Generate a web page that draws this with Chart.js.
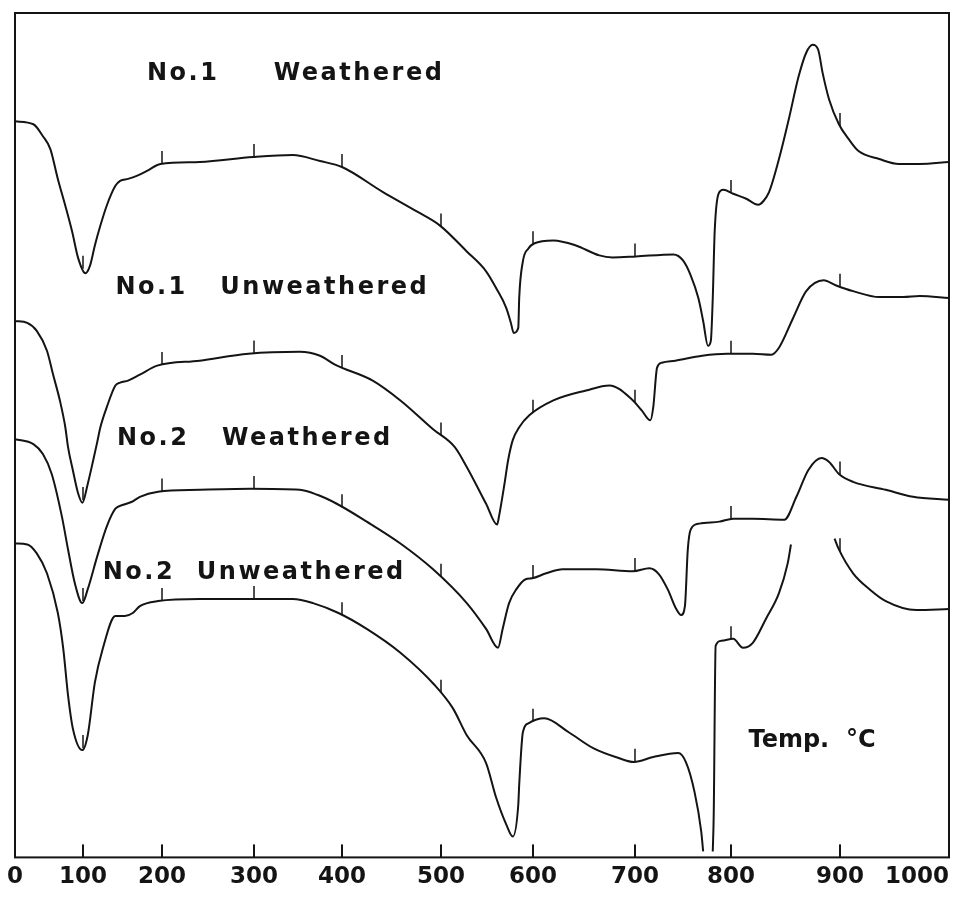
<!DOCTYPE html>
<html>
<head>
<meta charset="utf-8">
<script src="https://cdn.jsdelivr.net/npm/chart.js@4/dist/chart.umd.min.js"></script>
<style>html,body{margin:0;padding:0;background:#fff}canvas{display:block}</style>
</head>
<body>
<canvas id="c" width="972" height="900"></canvas>
<script>
// ---- DATA (x: temperature in °C, y: differential signal, arbitrary units) ----
const tempTickValues = [0, 100, 200, 300, 400, 500, 600, 700, 800, 900, 1000];
const tempTickLabels = ['0', '100', '200', '300', '400', '500', '600', '700', '800', '900', '1000'];
const seriesNames = ['No.1 Weathered', 'No.1 Unweathered', 'No.2 Weathered', 'No.2 Unweathered'];
const markTemps = [100, 200, 300, 400, 500, 600, 700, 800, 900];

const no1WeatheredTemp = [0,27,41,52,63,74,84,93,103,109,115,122,130,141,147,157,168,181,198,241,299,344,375,400,441,476,499,528,549,560,571,576,579,584,585,589,595,601,620,642,665,678,701,740,750,758,766,771,776,779,781,783,787,792,802,814,825,830,835,844,853,862,869,875,880,884,890,899,908,917,936,954,973,1000];
const no1WeatheredSignal = [148.2,147.6,145.2,142.6,136.6,131.2,126,120.6,117.6,119.2,123.2,127.2,131.2,135.2,136.2,136.6,137.2,138.2,139.6,140,141,141.4,140.2,139,134,130,127.2,122,118,114.6,110.6,107.6,105.6,106.6,112.6,120,122.6,123.6,124.2,123.2,121.2,120.8,121,121.4,120.2,117.2,112.6,108,103,104,112.6,126,133.6,134.4,133.6,132.6,131.4,132.2,134,140.6,148.6,157.2,162,163.6,162.6,158,152.6,147.6,144.6,142.2,140.6,139.6,139.6,140];

const no1UnweatheredTemp = [0,18,32,47,56,66,74,78,85,93,99,106,113,118,122,130,141,147,157,172,194,241,294,352,375,392,431,459,492,515,528,549,561,563,569,573,578,585,596,620,652,675,697,707,716,719,723,728,742,770,796,820,837,844,857,869,885,896,912,936,958,973,1000];
const no1UnweatheredSignal = [108,107.6,106,102,97.2,92,86.6,82.6,78,73.2,71.4,75.2,80,83.6,86.6,90.6,95,95.6,96,97.2,99,100,101.4,101.8,101,99.2,96,92,86.2,82.6,78.6,71.2,67,68.6,75.2,80,84,86.6,89,92,94,95,92.2,90,88,90.6,98.6,99.6,100,101,101.4,101.4,101.2,102.6,108.6,114,116.2,115.2,114,112.8,112.8,113,112.6];

const no2WeatheredTemp = [0,27,41,54,69,78,88,99,106,118,130,141,151,162,172,195,241,296,352,372,394,425,459,492,528,549,562,567,574,582,592,599,613,629,662,698,715,725,734,743,748,752,755,758,767,788,802,820,849,860,871,883,890,899,912,942,967,1000];
const no2WeatheredSignal = [84.2,83.2,81.2,77.2,68.6,62,55.2,51.2,54,60.6,66.6,70.2,71,71.6,72.6,73.6,74,74.2,74,73,71.2,67.6,63.2,58,51.2,46,42.2,46,51.2,54,56,56.2,57.2,58,58,57.6,58.2,57,54,50,48.8,50.6,62,66,67.2,67.6,68.2,68.2,68,72.6,78,80.4,79.6,77.2,75.6,74,72.6,72];

// null = pen off scale (trace interrupted)
const no2UnweatheredTemp = [0,18,32,47,63,71,78,85,99,106,115,125,141,153,163,172,195,241,296,344,367,396,425,459,494,513,528,549,560,571,578,584,585,589,595,611,635,659,684,699,719,745,753,762,769,771,null,781,782,784,790,802,811,820,832,844,852,855,null,895,899,912,927,942,970,1000];
const no2UnweatheredSignal = [63.2,63,61.2,57.2,49.2,42,32.6,26,21.6,24.6,35.2,42,48.6,48.6,49.2,50.6,51.6,52,52,52,51.2,49.2,46,41.2,34.6,30,24.6,19,12,6.6,4.2,10.6,14.6,25.2,27,28,25.2,22,20,19.2,20.2,21,19.2,13.2,5.2,1.2,null,1.2,8.6,42.6,43.6,44,42.2,43.2,48,53.2,59.2,63,null,64.2,62,57.2,54,51.6,49.8,50];

const seriesTemps = [no1WeatheredTemp, no1UnweatheredTemp, no2WeatheredTemp, no2UnweatheredTemp];
const seriesSignals = [no1WeatheredSignal, no1UnweatheredSignal, no2WeatheredSignal, no2UnweatheredSignal];

// ---- Non-linear temperature axis (recorder calibration: fraction of axis length at each tick value) ----
const tempAxisFractions = [0, 0.0728, 0.1574, 0.2559, 0.3501, 0.4561, 0.5546, 0.6638, 0.7666, 0.8833, 1];
function tempToFraction(t) {
  const v = tempTickValues, f = tempAxisFractions;
  let i = 0;
  while (i < v.length - 2 && t > v[i + 1]) i++;
  return f[i] + (t - v[i]) / (v[i + 1] - v[i]) * (f[i + 1] - f[i]);
}
function fractionToTemp(d) {
  const v = tempTickValues, f = tempAxisFractions;
  let i = 0;
  while (i < f.length - 2 && d > f[i + 1]) i++;
  return v[i] + (d - f[i]) / (f[i + 1] - f[i]) * (v[i + 1] - v[i]);
}
class CalibratedTempScale extends Chart.LinearScale {
  getPixelForValue(value) {
    if (value === null || value === undefined || isNaN(value)) return NaN;
    return this.getPixelForDecimal(tempToFraction(value));
  }
  getValueForPixel(pixel) {
    return fractionToTemp(this.getDecimalForPixel(pixel));
  }
  _computeLabelItems(chartArea) {
    const items = super._computeLabelItems(chartArea);
    if (items && items[0] && items[0].options) items[0].options.textAlign = 'center';
    return items;
  }
}
CalibratedTempScale.id = 'calibratedTemp';
CalibratedTempScale.defaults = Chart.LinearScale.defaults;
Chart.register(CalibratedTempScale);

function signalAt(points, t) {
  for (let i = 0; i < points.length - 1; i++) {
    const a = points[i], b = points[i + 1];
    if (a.x === null || b.x === null || a.y === null || b.y === null) continue;
    if (t >= a.x && t <= b.x) {
      return b.x === a.x ? a.y : a.y + (t - a.x) / (b.x - a.x) * (b.y - a.y);
    }
  }
  return null;
}

const INK = '#141414';

const dtaDecor = {
  id: 'dtaDecor',
  afterDatasetsDraw(chart, args, opts) {
    const { ctx, chartArea: a } = chart;
    const x = chart.scales.x, y = chart.scales.y;
    ctx.save();
    ctx.strokeStyle = opts.color;
    ctx.lineCap = 'butt';
    // frame
    ctx.lineWidth = opts.frameWidth;
    ctx.strokeRect(a.left, a.top, a.right - a.left, a.bottom - a.top);
    // inward ticks on the temperature axis
    ctx.lineWidth = opts.tickWidth;
    x.ticks.forEach(t => {
      const px = x.getPixelForValue(t.value);
      ctx.beginPath(); ctx.moveTo(px, a.bottom); ctx.lineTo(px, a.bottom - opts.axisTickLength); ctx.stroke();
    });
    // temperature marks on each trace
    ctx.lineWidth = opts.markWidth;
    chart.data.datasets.forEach(ds => {
      markTemps.forEach(t => {
        const v = signalAt(ds.data, t);
        if (v === null) return;
        const px = x.getPixelForValue(t), py = y.getPixelForValue(v);
        ctx.beginPath(); ctx.moveTo(px, py); ctx.lineTo(px, py - opts.markLength); ctx.stroke();
      });
    });
    // trace labels
    ctx.fillStyle = opts.color;
    ctx.textAlign = 'left';
    ctx.textBaseline = 'alphabetic';
    opts.labels.forEach(l => {
      ctx.font = 'bold ' + l.size + 'px "DejaVu Sans"';
      ctx.letterSpacing = l.spacing + 'px';
      ctx.fillText(l.text, x.getPixelForValue(l.temp), y.getPixelForValue(l.signal));
    });
    ctx.letterSpacing = '0px';
    ctx.restore();
  }
};

const datasets = seriesNames.map((name, k) => ({
  label: name,
  data: seriesTemps[k].map((t, i) => ({ x: t, y: seriesSignals[k][i] })),
  borderColor: INK,
  borderWidth: 2,
  pointRadius: 0,
  fill: false,
  spanGaps: false,
  cubicInterpolationMode: 'monotone'
}));

new Chart(document.getElementById('c'), {
  type: 'line',
  data: { datasets },
  plugins: [dtaDecor],
  options: {
    responsive: false,
    animation: false,
    devicePixelRatio: 1,
    layout: { padding: { left: 15, right: 23, top: 13, bottom: 3 } },
    plugins: {
      legend: { display: false },
      tooltip: { enabled: false },
      dtaDecor: {
        color: INK,
        frameWidth: 2,
        tickWidth: 2,
        axisTickLength: 13,
        markWidth: 1.5,
        markLength: 13,
        labels: [
          { text: 'No.1     Weathered', temp: 181, signal: 156.6, size: 24, spacing: 2.5 },
          { text: 'No.1   Unweathered', temp: 141, signal: 113.4, size: 24, spacing: 2.5 },
          { text: 'No.2   Weathered', temp: 143, signal: 83, size: 24, spacing: 2.5 },
          { text: 'No.2  Unweathered', temp: 125, signal: 56, size: 24, spacing: 2.5 },
          { text: 'Temp.  °C', temp: 816, signal: 22.2, size: 24, spacing: 0 }
        ]
      }
    },
    scales: {
      x: {
        type: 'calibratedTemp',
        min: 0,
        max: 1000,
        grid: { display: false, drawTicks: false },
        border: { display: false },
        ticks: {
          stepSize: 100,
          autoSkip: false,
          maxRotation: 0,
          minRotation: 0,
          align: 'inner',
          padding: 6,
          color: INK,
          font: { family: '"DejaVu Sans"', size: 23, weight: 'bold' },
          callback: (value, index) => tempTickLabels[tempTickValues.indexOf(value)] ?? tempTickLabels[index]
        }
      },
      y: { display: false, min: 0, max: 170 }
    }
  }
});
</script>
</body>
</html>
